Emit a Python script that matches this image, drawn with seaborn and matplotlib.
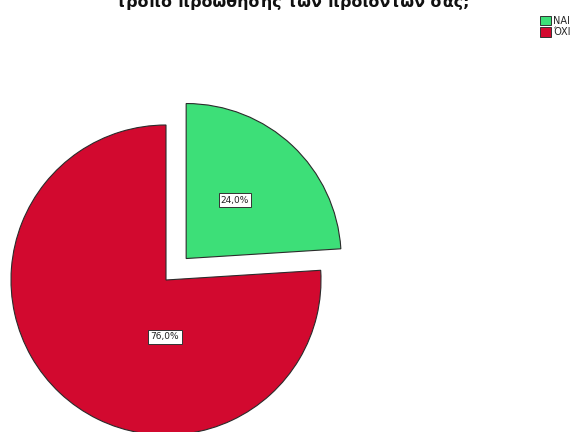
import matplotlib
matplotlib.use("Agg")
import matplotlib.pyplot as plt
import seaborn as sns
from matplotlib.patches import Patch

# Survey answers and their shares (%)
categories = ["NAI", "ΌΧΙ"]
shares = [24.0, 76.0]
title_text = "τρόπο προώθησης των προϊόντων σας;"

sns.set_theme(style="white")
palette = sns.color_palette(["#3ddf78", "#d2092f"])

W, H = 586, 432
fig = plt.figure(figsize=(W / 100, H / 100), dpi=100)
ax = fig.add_axes([0, 0, 1, 1])

# pixel frame: pie centre and radius
cx, cy, r = 166, 280, 155

wedges, _ = ax.pie(
    shares,
    colors=palette,
    startangle=90,
    counterclock=False,
    explode=[0.19, 0.0],
    radius=1.0,
    center=(0, 0),
    wedgeprops=dict(edgecolor="#2b2b2b", linewidth=0.8),
)
ax.set_xlim(-cx / r, (W - cx) / r)
ax.set_ylim((cy - H) / r, cy / r)
ax.set_aspect("equal")
ax.axis("off")

# percentage labels in framed boxes
label_pos = [((235 - cx) / r, (cy - 200) / r), ((165 - cx) / r, (cy - 337) / r)]
for val, (x, y) in zip(shares, label_pos):
    ax.text(x, y, f"{val:.1f}%".replace(".", ","), ha="center", va="center",
            fontsize=6.5, color="#222222",
            bbox=dict(boxstyle="square,pad=0.25", facecolor="white",
                      edgecolor="#333333", linewidth=0.7))

# title, running off the top edge
fig.text(0.5, 1.0 - 7 / H, title_text, ha="center", va="baseline",
         fontsize=11.4, fontweight="bold", color="#111111")

handles = [Patch(facecolor=c, edgecolor="#333333", linewidth=0.7) for c in palette]
fig.legend(handles, categories, loc="upper left", bbox_to_anchor=(540 / W, 1 - 16 / H),
           frameon=False, fontsize=7, handlelength=1.1, handleheight=1.1,
           handletextpad=0.2, labelspacing=0.15, borderpad=0.0, borderaxespad=0.0)

fig.savefig("out.png", dpi=100)
